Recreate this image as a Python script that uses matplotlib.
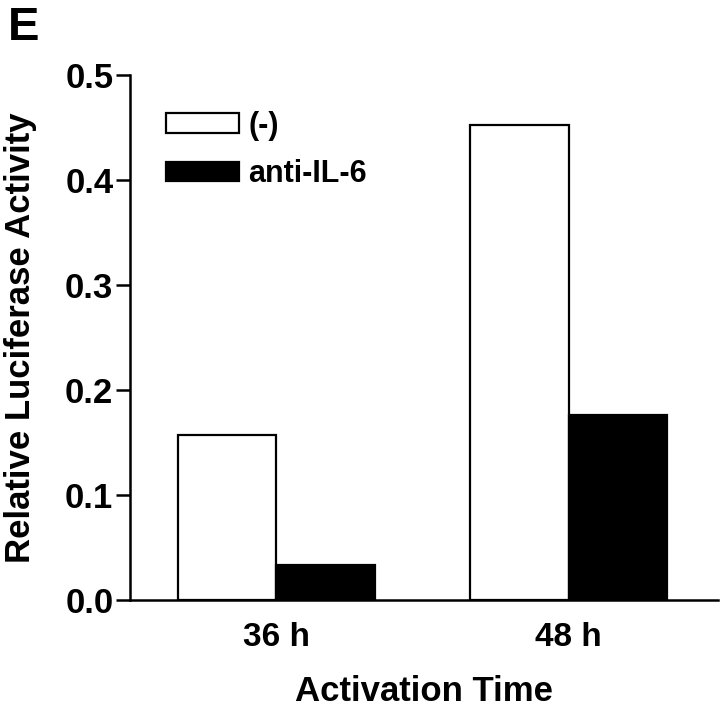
import numpy as np
import matplotlib
matplotlib.use('Agg')
import matplotlib.pyplot as plt
from matplotlib.patches import Patch

## dados
times = ['36 h', '48 h']
ctrl = [0.157, 0.452]       # (-)
anti_il6 = [0.033, 0.176]   # anti-IL-6

plt.rcParams['font.family'] = ['Liberation Sans Narrow', 'Liberation Sans', 'DejaVu Sans']
plt.rcParams['font.weight'] = 'bold'

fig = plt.figure(figsize=(7.2, 7.11), dpi=100)
ax = fig.add_axes([0.1806, 0.1561, 0.8164, 0.7384])

x = np.arange(len(times))
w = 0.336
ax.bar(x - w/2, ctrl, w, color='white', edgecolor='black', linewidth=1.6)
ax.bar(x + w/2, anti_il6, w, color='black', edgecolor='black', linewidth=1.6)

ax.set_xlim(-0.5, 1.51)
ax.set_ylim(0, 0.5)
ax.set_yticks([0.0, 0.1, 0.2, 0.3, 0.4, 0.5])
ax.set_yticklabels(['0.0', '0.1', '0.2', '0.3', '0.4', '0.5'])
ax.set_xticks(x)
ax.set_xticklabels(times)

for s in ['top', 'right']:
    ax.spines[s].set_visible(False)
ax.spines['left'].set_linewidth(1.8)
ax.spines['bottom'].set_linewidth(1.8)
ax.tick_params(axis='y', length=10, width=1.8, labelsize=25, pad=2)
ax.tick_params(axis='x', length=0, labelsize=24, pad=16)

ax.set_xlabel('Activation Time', fontsize=25, fontweight='bold', labelpad=16)
ax.set_ylabel('Relative Luciferase Activity', fontsize=25, fontweight='bold',
              family=['Liberation Sans', 'DejaVu Sans'], labelpad=20)

handles = [Patch(facecolor='white', edgecolor='black', linewidth=1.6, label='(-)'),
           Patch(facecolor='black', edgecolor='black', linewidth=1.6, label='anti-IL-6')]
ax.legend(handles=handles, loc='upper left', bbox_to_anchor=(0.04, 0.955),
          frameon=False, fontsize=22, handlelength=2.4, handleheight=0.6,
          handletextpad=0.3, labelspacing=0.6, borderaxespad=0)

fig.text(0.011, 0.992, 'E', fontsize=34, fontweight='bold', va='top', ha='left',
         family=['Liberation Sans', 'DejaVu Sans'])

fig.savefig('out.png', dpi=100)
